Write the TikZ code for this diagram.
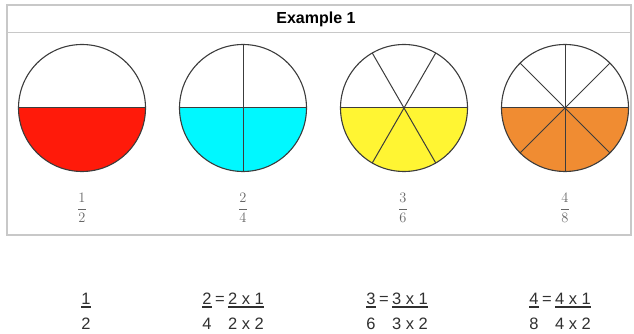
\documentclass[tikz,border=0pt]{standalone}
\usepackage{amsmath}
\usepackage{fontspec}
\newfontfamily\arialfont{Liberation Sans}
\usetikzlibrary{positioning}
\definecolor{PieRed}{HTML}{FF1A0A}
\definecolor{PieCyan}{HTML}{00F8FF}
\definecolor{PieYellow}{HTML}{FFF533}
\definecolor{PieOrange}{HTML}{F08C32}
\definecolor{Rim}{HTML}{3C3C3C}
\definecolor{Frame}{HTML}{C8C8C8}
\definecolor{Ink}{HTML}{303030}
\tikzset{
  pie/.style={draw=Rim, line width=1.1pt},
  spoke/.style={draw=Rim, line width=1pt},
  eqtext/.style={inner sep=0pt, anchor=base, text=Ink,
    font=\arialfont\fontsize{16.5}{17}\selectfont},
  ulbar/.style={line width=1.2pt, draw=Ink},
}

\begin{document}
\begin{tikzpicture}[x=1pt, y=1pt,
  smallfrac/.style={inner sep=0pt, text=black!60, font=\fontsize{14}{14}\selectfont},
]
  \useasboundingbox (0,0) rectangle (634,334);
  % frame and title
  \draw[draw=Frame, line width=2pt] (7,99) rectangle (631,329);
  \draw[draw=Frame, line width=1pt] (7,301) -- (631,301);
  \node[font=\arialfont\bfseries\fontsize{16}{16}\selectfont] (title) at (316,315) {Example 1};
  % pies
  \coordinate (c1) at (82,226);
  \coordinate (c2) at (243,226);
  \coordinate (c3) at (404,226);
  \coordinate (c4) at (565,226);
  \foreach \n/\k/\col in {1/2/PieRed, 2/4/PieCyan, 3/6/PieYellow, 4/8/PieOrange} {
    \fill[\col] (c\n) +(180:63.5) arc[start angle=180, end angle=360, radius=63.5] -- cycle;
    \foreach \i in {1,...,\k}
      \draw[spoke] (c\n) -- +({360/\k*\i}:63.5);
    \draw[pie] (c\n) circle[radius=63.5];
  }
  \node[smallfrac] (f1) at (82,126) {$\dfrac{1}{2}$};
  \node[smallfrac] (f2) at (243,126) {$\dfrac{2}{4}$};
  \node[smallfrac] (f3) at (403,126) {$\dfrac{3}{6}$};
  \node[smallfrac] (f4) at (565,126) {$\dfrac{4}{8}$};
  % equations
  \node[eqtext] (n1) at (86,29) {1};
  \node[eqtext] (d1) at (86,4) {2};
  \draw[ulbar] ([yshift=-2pt]n1.base west) -- ([yshift=-2pt]n1.base east);
  \foreach \n/\x in {2/207, 3/371, 4/534} {
    \pgfmathtruncatemacro\dd{2*\n}
    \node[eqtext] (n\n) at (\x,29) {\n};
    \node[eqtext] (eq\n) at (\x+13,29) {=};
    \node[eqtext] (m\n) at (\x+39,29) {\n{} x 1};
    \node[eqtext] (d\n) at (\x,4) {\dd};
    \node[eqtext] (e\n) at (\x+39,4) {\n{} x 2};
    \draw[ulbar] ([yshift=-2pt]n\n.base west) -- ([yshift=-2pt]n\n.base east);
    \draw[ulbar] ([yshift=-2pt]m\n.base west) -- ([yshift=-2pt]m\n.base east);
  }
\end{tikzpicture}
\end{document}
